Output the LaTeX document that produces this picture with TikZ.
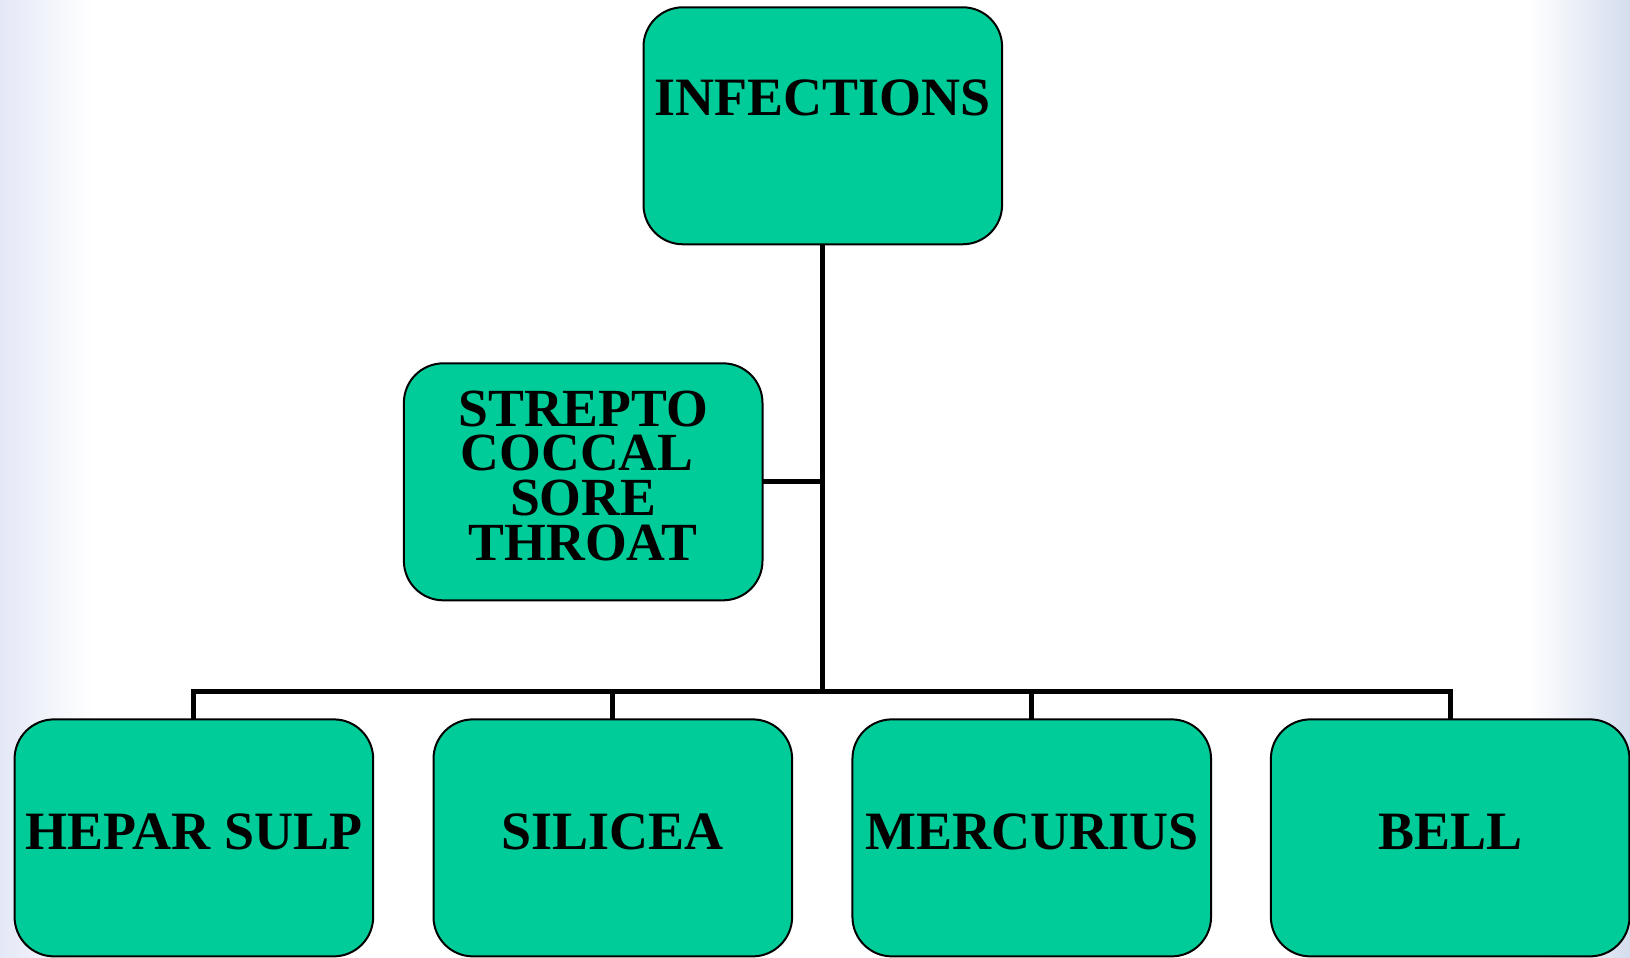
\documentclass[tikz,border=0pt]{standalone}
\usepackage{fontspec}
\setmainfont{Liberation Serif}
\begin{document}
\begin{tikzpicture}[x=1.0395pt,y=-1.0395pt,
  box/.style={draw=black, line width=2pt, fill=boxfill, rounded corners=39.5pt,
    minimum width=358.6pt, minimum height=237pt, inner sep=0pt, outer sep=0pt},
  lbl/.style={font=\bfseries\fontsize{54}{54}\selectfont, inner sep=0pt, align=center},
  conn/.style={draw=black, line width=5pt}]
\definecolor{boxfill}{RGB}{0,204,153}
\definecolor{edgeL}{RGB}{228,232,246}
\definecolor{edgeR}{RGB}{212,221,238}
\useasboundingbox (0,0) rectangle (1568,920.6);
\fill[white] (0,0) rectangle (1568,920.6);
\shade[left color=edgeL, right color=white] (0,0) rectangle (90,920.6);
\shade[left color=white, right color=edgeR] (1470,0) rectangle (1568,920.6);
% boxes
\node[box] (inf) at (791.5,121) {};
\node[box] (strep) at (561,463.5) {};
\node[box] (hep) at (186.5,806) {};
\node[box] (sil) at (589.5,806) {};
\node[box] (merc) at (992.5,806) {};
\node[box] (bell) at (1395,806) {};
% connectors
\coordinate (bus) at (791.5,665);
\draw[conn] (inf.south) -- (bus);
\draw[conn] (hep.north) |- (bus) -| (bell.north);
\draw[conn] (sil.north) -- (sil.north |- bus);
\draw[conn] (merc.north) -- (merc.north |- bus);
\draw[conn] (strep.east) -- (strep.east -| bus);
% labels
\node[lbl] (tinf) at (791,94) {INFECTIONS};
\node[lbl, font=\bfseries\fontsize{53.7}{44.7}\selectfont, anchor=base] (tstrep) at (561,539) {STREPTO\\COCCAL\rule{12pt}{0pt}\\SORE\\THROAT};
\node[lbl] (thep) at (186.5,800.5) {HEPAR SULP};
\node[lbl] (tsil) at (589.5,800.5) {SILICEA};
\node[lbl] (tmerc) at (992.5,800.5) {MERCURIUS};
\node[lbl] (tbell) at (1395,800.5) {BELL};
\end{tikzpicture}
\end{document}
